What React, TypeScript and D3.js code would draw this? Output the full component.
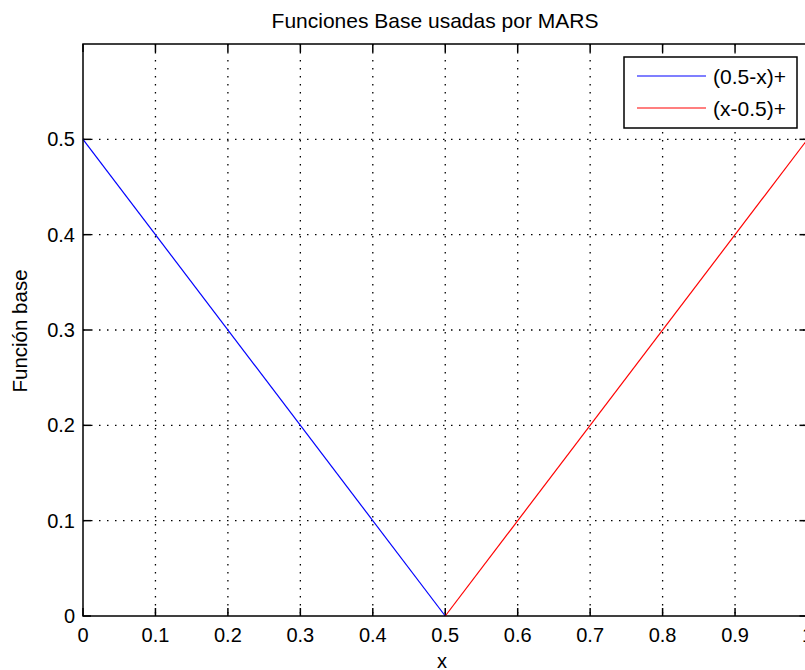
import React from "react";
import * as d3 from "d3";

const xTicks = [0, 0.1, 0.2, 0.3, 0.4, 0.5, 0.6, 0.7, 0.8, 0.9, 1];
const yTicks = [0, 0.1, 0.2, 0.3, 0.4, 0.5];
const blueX = [0, 0.5];
const blueY = [0.5, 0];
const redX = [0.5, 1];
const redY = [0, 0.5];
const seriesNames = ["(0.5-x)+", "(x-0.5)+"];
const seriesColors = ["#0000ff", "#ff0000"];
const title = "Funciones Base usadas por MARS";
const xLabel = "x";
const yLabel = "Función base";

const W = 805;
const H = 670;
const left = 83;
const right = 807.5;
const top = 44;
const bottom = 616;
const FONT = "'Liberation Sans', Arial, sans-serif";

export default function App() {
  const x = d3.scaleLinear().domain([0, 1]).range([left, right]);
  const y = d3.scaleLinear().domain([0, 0.6]).range([bottom, top]);
  const line = d3
    .line<[number, number]>()
    .x((d) => x(d[0]))
    .y((d) => y(d[1]));
  const blue = blueX.map((v, i) => [v, blueY[i]] as [number, number]);
  const red = redX.map((v, i) => [v, redY[i]] as [number, number]);
  const tickLen = 8;
  const dash = "1.5,6.5";

  return (
    <svg
      width={W}
      height={H}
      style={{ position: "absolute", left: 0, top: 0, background: "#fff" }}
      fontFamily={FONT}
    >
      <rect x={0} y={0} width={W} height={H} fill="#fff" />
      <rect x={left} y={top} width={right - left} height={bottom - top} fill="#fff" />
      {/* grid */}
      {xTicks.slice(1, -1).map((t) => (
        <line key={"gx" + t} x1={x(t)} x2={x(t)} y1={top} y2={bottom} stroke="#000" strokeWidth={1.3} strokeDasharray={dash} />
      ))}
      {yTicks.slice(1).map((t) => (
        <line key={"gy" + t} x1={left} x2={right} y1={y(t)} y2={y(t)} stroke="#000" strokeWidth={1.3} strokeDasharray={dash} />
      ))}
      {/* ticks */}
      {xTicks.map((t) => (
        <g key={"tx" + t}>
          <line x1={x(t)} x2={x(t)} y1={bottom} y2={bottom - tickLen} stroke="#000" strokeWidth={1.5} />
          <line x1={x(t)} x2={x(t)} y1={top} y2={top + tickLen} stroke="#000" strokeWidth={1.5} />
          <text x={x(t)} y={642} textAnchor="middle" fontSize={20} fill="#000">
            {String(t)}
          </text>
        </g>
      ))}
      {yTicks.map((t) => (
        <g key={"ty" + t}>
          <line x1={left} x2={left + tickLen} y1={y(t)} y2={y(t)} stroke="#000" strokeWidth={1.5} />
          <line x1={right} x2={right - tickLen} y1={y(t)} y2={y(t)} stroke="#000" strokeWidth={1.5} />
          <text x={75} y={y(t) + 7} textAnchor="end" fontSize={20} fill="#000">
            {String(t)}
          </text>
        </g>
      ))}
      {/* data */}
      <path d={line(blue) || ""} fill="none" stroke={seriesColors[0]} strokeWidth={1.2} />
      <path d={line(red) || ""} fill="none" stroke={seriesColors[1]} strokeWidth={1.2} />
      {/* axes box */}
      <rect x={left} y={top} width={right - left} height={bottom - top} fill="none" stroke="#000" strokeWidth={1.5} />
      {/* legend */}
      <rect x={624} y={57} width={173} height={71} fill="#fff" stroke="#000" strokeWidth={1.5} />
      {seriesNames.map((n, i) => (
        <g key={n}>
          <line x1={637} x2={706} y1={76 + i * 32} y2={76 + i * 32} stroke={seriesColors[i]} strokeWidth={1.2} />
          <text x={713} y={76 + i * 32 + 8} fontSize={21} fill="#000">
            {n}
          </text>
        </g>
      ))}
      {/* labels */}
      <text x={435} y={28} textAnchor="middle" fontSize={21} fill="#000">
        {title}
      </text>
      <text x={442} y={668} textAnchor="middle" fontSize={20} fill="#000">
        {xLabel}
      </text>
      <text transform={`translate(27,331) rotate(-90)`} textAnchor="middle" fontSize={20.5} fill="#000">
        {yLabel}
      </text>
    </svg>
  );
}
